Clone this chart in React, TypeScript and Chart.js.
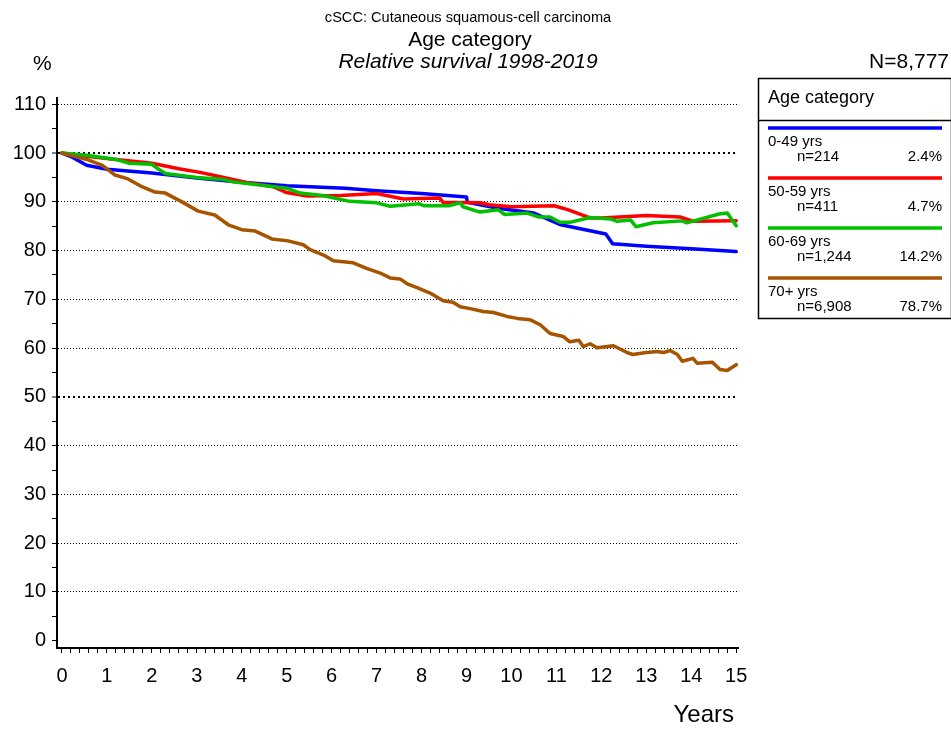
import React, { useEffect, useRef } from 'react';
import { Chart, registerables } from 'chart.js';

Chart.register(...registerables);

const FONT = '"Liberation Sans", Arial, Helvetica, sans-serif';

// ---- texts ----
const titleMain = 'cSCC: Cutaneous squamous-cell carcinoma';
const titleSub = 'Age category';
const titleItalic = 'Relative survival 1998-2019';
const yUnit = '%';
const totalN = 'N=8,777';
const xTitle = 'Years';
const legendTitle = 'Age category';

// ---- groups ----
const groupNames = ['0-49 yrs', '50-59 yrs', '60-69 yrs', '70+ yrs'];
const groupCounts = ['n=214', 'n=411', 'n=1,244', 'n=6,908'];
const groupShares = ['2.4%', '4.7%', '14.2%', '78.7%'];
const groupColors = ['#0000FF', '#FF0000', '#00C000', '#A65400'];

// ---- data (years since diagnosis, relative survival %) ----
const years0049 = [0, 0.2, 0.55, 1, 2, 3, 4, 5, 6.3, 7, 8, 9.0, 9.02, 9.7, 10.5, 11.1, 12.1, 12.25, 13, 14, 15];
const surv0049 = [100, 99.3, 97.5, 96.7, 95.9, 94.9, 94.0, 93.3, 92.8, 92.3, 91.7, 91.0, 89.9, 88.7, 87.7, 85.3, 83.4, 81.4, 80.9, 80.4, 79.8];

const years5059 = [0, 0.3, 1, 2, 2.6, 3.1, 3.6, 4.1, 4.7, 5.0, 5.45, 6.2, 7.0, 7.6, 8.4, 8.48, 9.3, 9.5, 10.0, 10.95, 11.25, 11.75, 12.0, 13.0, 13.75, 14.05, 15.0];
const surv5059 = [100, 99.6, 98.9, 97.9, 96.8, 96.0, 95.0, 94.0, 93.1, 91.9, 91.2, 91.3, 91.7, 90.6, 90.8, 89.9, 89.8, 89.4, 89.0, 89.2, 88.4, 86.7, 86.7, 87.2, 86.9, 86.0, 86.1];

const years6069 = [0, 0.6, 1.2, 1.5, 2.0, 2.1, 2.3, 3.0, 3.6, 3.8, 4.45, 5.0, 5.3, 5.8, 6.4, 7.0, 7.3, 7.95, 8.05, 8.6, 8.86, 8.92, 9.3, 9.7, 9.85, 10.35, 10.6, 10.86, 11.08, 11.3, 11.75, 12.2, 12.35, 12.65, 12.77, 13.15, 13.8, 13.9, 14.62, 14.8, 15.0];
const surv6069 = [100, 99.5, 98.7, 97.9, 97.7, 97.0, 95.8, 95.0, 94.6, 94.1, 93.4, 92.8, 91.8, 91.3, 90.1, 89.8, 89.1, 89.6, 89.2, 89.2, 89.8, 89.0, 87.9, 88.4, 87.4, 87.7, 86.9, 86.9, 85.8, 85.8, 86.8, 86.5, 86.0, 86.3, 84.9, 85.7, 86.1, 85.7, 87.5, 87.7, 85.1];

const years70 = [0, 0.58, 0.9, 1.18, 1.47, 1.78, 2.07, 2.3, 2.67, 3.03, 3.4, 3.7, 4.0, 4.3, 4.67, 5.03, 5.37, 5.52, 5.82, 6.04, 6.48, 6.79, 7.08, 7.3, 7.52, 7.68, 7.9, 8.19, 8.48, 8.7, 8.86, 9.08, 9.37, 9.6, 9.9, 10.13, 10.42, 10.64, 10.86, 11.15, 11.3, 11.5, 11.6, 11.75, 11.9, 12.27, 12.57, 12.7, 13.0, 13.24, 13.38, 13.53, 13.69, 13.8, 14.04, 14.13, 14.47, 14.64, 14.8, 15.0];
const surv70 = [100, 98.6, 97.5, 95.5, 94.7, 93.1, 92.0, 91.8, 90.0, 88.1, 87.3, 85.3, 84.3, 84.0, 82.4, 82.0, 81.2, 80.2, 79.1, 77.9, 77.5, 76.3, 75.4, 74.4, 74.2, 73.2, 72.4, 71.3, 69.7, 69.4, 68.5, 68.1, 67.5, 67.3, 66.5, 66.1, 65.8, 64.8, 63.0, 62.4, 61.3, 61.6, 60.3, 60.9, 60.1, 60.5, 59.1, 58.7, 59.1, 59.3, 59.1, 59.5, 58.7, 57.3, 57.9, 56.9, 57.1, 55.6, 55.4, 56.6];

const seriesYears = [years0049, years5059, years6069, years70];
const seriesSurv = [surv0049, surv5059, surv6069, surv70];

const W = 951;
const H = 731;

const decorPlugin = {
  id: 'decor',
  afterDraw(chart: any) {
    const ctx = chart.ctx as CanvasRenderingContext2D;
    ctx.save();
    ctx.fillStyle = '#000';
    ctx.textBaseline = 'middle';

    ctx.textAlign = 'center';
    ctx.font = `14.6px ${FONT}`;
    ctx.fillText(titleMain, 468, 18);
    ctx.font = `21px ${FONT}`;
    ctx.fillText(titleSub, 470, 40);
    ctx.font = `italic 21px ${FONT}`;
    ctx.fillText(titleItalic, 468, 62);

    ctx.font = `21px ${FONT}`;
    ctx.textAlign = 'left';
    ctx.fillText(yUnit, 33, 64);
    ctx.textAlign = 'right';
    ctx.fillText(totalN, 949, 62);

    ctx.font = `24px ${FONT}`;
    ctx.textAlign = 'right';
    ctx.fillText(xTitle, 734, 715);

    // legend box
    const bx = 758.5, by = 78.5, bw = 193, bh = 240;
    ctx.strokeStyle = '#000';
    ctx.lineWidth = 1.5;
    ctx.strokeRect(bx, by, bw, bh);
    ctx.beginPath();
    ctx.moveTo(bx, 120.5);
    ctx.lineTo(bx + bw, 120.5);
    ctx.stroke();

    ctx.textAlign = 'left';
    ctx.font = `18px ${FONT}`;
    ctx.fillText(legendTitle, 768, 98);

    for (let i = 0; i < groupNames.length; i++) {
      const ly = 128 + 50 * i;
      ctx.strokeStyle = groupColors[i];
      ctx.lineWidth = 3.5;
      ctx.beginPath();
      ctx.moveTo(768, ly);
      ctx.lineTo(942, ly);
      ctx.stroke();
      ctx.font = `15px ${FONT}`;
      ctx.textAlign = 'left';
      ctx.fillText(groupNames[i], 768, ly + 14);
      ctx.fillText(groupCounts[i], 797, ly + 29);
      ctx.textAlign = 'right';
      ctx.fillText(groupShares[i], 942, ly + 29);
    }
    ctx.restore();
  },
};

export default function App() {
  const canvasRef = useRef<HTMLCanvasElement | null>(null);

  useEffect(() => {
    const canvas = canvasRef.current;
    if (!canvas) return;

    const datasets = groupNames.map((name, i) => ({
      label: name,
      data: seriesYears[i].map((t, k) => ({ x: t, y: seriesSurv[i][k] })),
      borderColor: groupColors[i],
      backgroundColor: groupColors[i],
      borderWidth: 3.5,
      pointRadius: 0,
      tension: 0,
      fill: false,
      order: 4 - i,
      borderJoinStyle: 'round' as const,
      borderCapStyle: 'round' as const,
    }));

    const chart = new Chart(canvas, {
      type: 'line',
      data: { datasets },
      plugins: [decorPlugin],
      options: {
        responsive: false,
        animation: false,
        devicePixelRatio: 1,
        layout: { padding: { top: 98, right: W - 738, left: 0, bottom: 0 } },
        plugins: {
          legend: { display: false },
          title: { display: false },
          tooltip: { enabled: false },
        },
        scales: {
          x: {
            type: 'linear',
            min: -0.11,
            max: 15.04,
            afterFit: (s: any) => { s.height = H - 648; },
            ticks: {
              stepSize: 0.2,
              includeBounds: false,
              autoSkip: false,
              maxRotation: 0,
              minRotation: 0,
              padding: 11,
              color: '#000',
              font: { family: FONT, size: 20 },
              callback: (v: any) => {
                const n = Number(v);
                return Math.abs(n - Math.round(n)) < 1e-6 ? String(Math.round(n)) : '';
              },
            },
            grid: {
              drawOnChartArea: false,
              drawTicks: true,
              tickLength: 5,
              tickColor: '#000',
              tickWidth: 1,
            },
            border: { display: true, color: '#000', width: 2 },
          },
          y: {
            type: 'linear',
            min: -1.5,
            max: 111.3,
            afterFit: (s: any) => { s.width = 57; },
            ticks: {
              stepSize: 5,
              includeBounds: false,
              autoSkip: false,
              padding: 6,
              color: '#000',
              font: { family: FONT, size: 20 },
              callback: (v: any) => {
                const n = Math.round(Number(v));
                return n % 10 === 0 ? String(n) : '';
              },
            },
            grid: {
              drawOnChartArea: true,
              drawTicks: true,
              tickLength: 5,
              tickColor: '#000',
              tickWidth: 1,
              color: (c: any) => {
                const v = c.tick ? Math.round(c.tick.value) : -1;
                return v > 0 && v % 10 === 0 ? '#000' : 'rgba(0,0,0,0)';
              },
              lineWidth: (c: any) => {
                const v = c.tick ? Math.round(c.tick.value) : -1;
                return v === 100 || v === 50 ? 2 : 1;
              },
            },
            border: {
              display: true,
              color: '#000',
              width: 2,
              dash: (c: any) => {
                const v = c.tick ? Math.round(c.tick.value) : -1;
                return v === 100 || v === 50 ? [2, 3] : [1, 2];
              },
            },
          },
        },
      } as any,
    });

    return () => chart.destroy();
  }, []);

  return (
    <div style={{ position: 'fixed', left: 0, top: 0, width: W, height: H, background: '#fff' }}>
      <canvas ref={canvasRef} width={W} height={H} style={{ display: 'block', width: W, height: H }} />
    </div>
  );
}
